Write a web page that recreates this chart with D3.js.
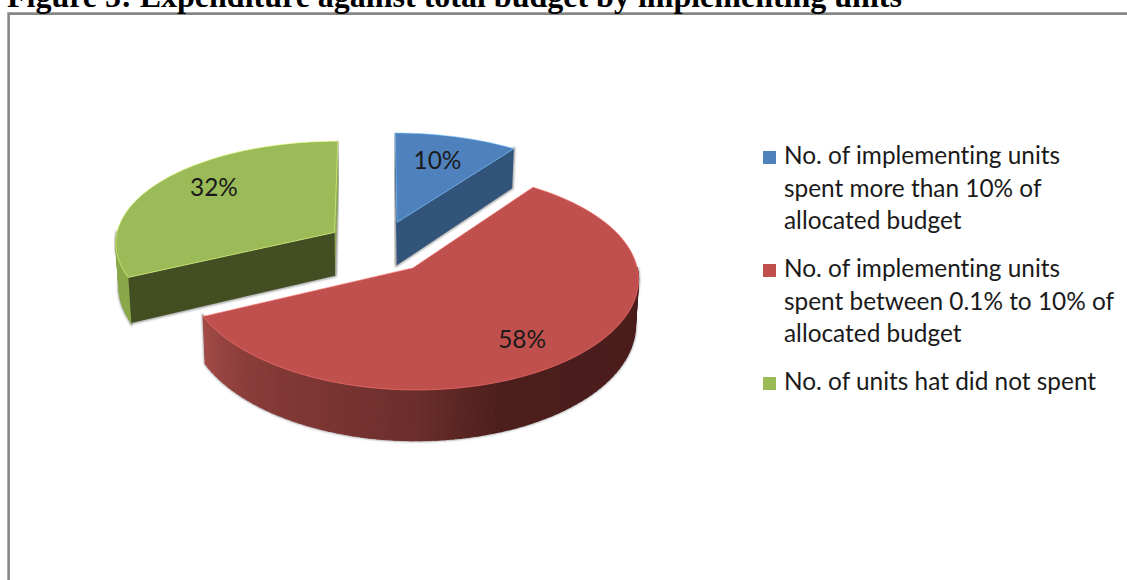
<!DOCTYPE html>
<html>
<head>
<meta charset="utf-8">
<script src="https://cdn.jsdelivr.net/npm/d3@7/dist/d3.min.js"></script>
<style>
  html, body { margin: 0; padding: 0; background: #fff; overflow: hidden; }
  svg { display: block; }
  text { font-variant-ligatures: none; }
</style>
</head>
<body>
<svg id="chart" width="1127" height="580"></svg>
<script>
// Expenditure shares by implementing unit group
const titleText = "Figure 5: Expenditure against total budget by implementing units";
const shares = [10, 58, 32];
const shareLabels = ["10%", "58%", "32%"];
const legendLines = [
  ["No. of implementing units", "spent more than 10% of", "allocated budget"],
  ["No. of implementing units", "spent between 0.1% to 10% of", "allocated budget"],
  ["No. of units hat did not spent"]
];
const topColors = ["#4f81bd", "#bf504d", "#9bbb59"];
const innerWallColors = ["#33547a", "#7d3432", "#434f22"];
const sideWallColors = ["#3b5f8a", "#bf504d", "#8aa84b"];
const explodeAcross = [0.33, 0.265, 0.22];
const explodeAlong = [0.235, 0.28, 0.23];
const labelRadius = [0.7, 0.765, 0.745];
const labelTurnDeg = [-1, 3.6, 5.9];

const W = 1127, H = 580;
const svg = d3.select("#chart");

// Tilted-disc projection: far points shrink, near points grow
const view = { cx: 375, cy: 245, rx: 220, ry: 103.6, kx: 0.09, ky: 0.108, depth: 44, pinch: 0.012 };
function project(X, Y, z) {
  const sx = 1 / (1 + view.kx * Y);
  const sy = 1 / (1 + view.ky * Y);
  return [
    view.cx + view.rx * X * sx * (1 - view.pinch * z),
    view.cy - view.ry * Y * sy + view.depth * sy * z
  ];
}

const pie = d3.pie().sort(null).value(d => d)(shares);
const slices = pie.map((p, i) => {
  const mid = (p.startAngle + p.endAngle) / 2;
  return {
    i,
    a0: p.startAngle,
    a1: p.endAngle,
    mid,
    ox: explodeAcross[i] * Math.sin(mid),
    oy: explodeAlong[i] * Math.cos(mid)
  };
});

const rim = (sl, a, z) => project(sl.ox + Math.sin(a), sl.oy + Math.cos(a), z);
const hub = (sl, z) => project(sl.ox, sl.oy, z);
const line = d3.line();
const closed = pts => line(pts) + "Z";
const arcAngles = sl => {
  const n = Math.max(2, Math.ceil((sl.a1 - sl.a0) / (Math.PI / 90)));
  return d3.range(n + 1).map(j => sl.a0 + (sl.a1 - sl.a0) * j / n);
};

// Shading along the curved front edge of the large slice
const deg = Math.PI / 180;
const redSide = d3.scaleLinear()
  .domain([90 * deg, 160 * deg, 180 * deg, 225 * deg, 245 * deg])
  .range(["#4a1c1b", "#4c1e1c", "#6b2e2b", "#8a3d3a", "#a34b48"])
  .interpolate(d3.interpolateRgb)
  .clamp(true);

const defs = svg.append("defs");
defs.append("filter").attr("id", "halo")
  .attr("x", "-10%").attr("y", "-10%").attr("width", "120%").attr("height", "120%")
  .append("feGaussianBlur").attr("stdDeviation", 0.8);

svg.append("rect").attr("width", W).attr("height", H).attr("fill", "#fff");

// Chart frame
svg.append("path")
  .attr("d", line([[8.6, H], [8.6, 13.6], [W, 13.6]]))
  .attr("fill", "none")
  .attr("stroke", "#868686")
  .attr("stroke-width", 2.6);

// Heading, cut by the top of the page
svg.append("text")
  .attr("x", 7).attr("y", 7)
  .attr("font-family", "'Liberation Serif', serif")
  .attr("font-weight", "bold")
  .attr("font-size", 32)
  .attr("fill", "#000")
  .text(titleText);

const pieLayer = svg.append("g");

// Walls: back to front
[0, 2, 1].forEach(i => {
  const sl = slices[i];
  const g = pieLayer.append("g");
  const angles = arcAngles(sl);

  const startWall = [rim(sl, sl.a0, 0), hub(sl, 0), hub(sl, 1), rim(sl, sl.a0, 1)];
  const endWall = [rim(sl, sl.a1, 0), hub(sl, 0), hub(sl, 1), rim(sl, sl.a1, 1)];
  const faceAngles = angles.filter(a => a > 88 * deg && a < 272 * deg);
  const outerWall = faceAngles.length > 1
    ? faceAngles.map(a => rim(sl, a, 0)).concat(faceAngles.slice().reverse().map(a => rim(sl, a, 1)))
    : null;

  // soft gray edge around the solid
  [startWall, endWall, outerWall].filter(Boolean).forEach(w => {
    if (i === 1 && w !== outerWall) return;
    g.append("path").attr("d", closed(w))
      .attr("fill", "none").attr("stroke", "#9a9a9a").attr("stroke-width", 2.4)
      .attr("filter", "url(#halo)");
  });

  // far radial wall, seen edge-on
  if (i === 2) {
    g.append("path").attr("d", closed(endWall)).attr("fill", sideWallColors[i]);
  }
  if (i === 0) {
    g.append("path").attr("d", closed(startWall)).attr("fill", sideWallColors[i]);
  }

  // curved outer wall, one band per step
  for (let j = 0; j < faceAngles.length - 1; j++) {
    const a = faceAngles[j], b = faceAngles[j + 1];
    const tone = i === 1 ? redSide((a + b) / 2) : sideWallColors[i];
    g.append("path")
      .attr("d", closed([rim(sl, a, 0), rim(sl, b, 0), rim(sl, b, 1), rim(sl, a, 1)]))
      .attr("fill", tone)
      .attr("stroke", tone)
      .attr("stroke-width", 1.2);
  }

  // radial wall that faces the viewer
  if (i === 0) {
    g.append("path").attr("d", closed(endWall)).attr("fill", innerWallColors[i]);
  }
  if (i === 2) {
    g.append("path").attr("d", closed(startWall)).attr("fill", innerWallColors[i]);
  }
});

// Top faces
slices.forEach(sl => {
  const pts = [hub(sl, 0)].concat(arcAngles(sl).map(a => rim(sl, a, 0)));
  pieLayer.append("path")
    .attr("d", closed(pts))
    .attr("fill", topColors[sl.i])
    .attr("stroke", d3.rgb(topColors[sl.i]).brighter(1.1))
    .attr("stroke-width", 0.6)
    .attr("stroke-linejoin", "round");
});

// Percent labels
slices.forEach(sl => {
  const a = sl.mid + labelTurnDeg[sl.i] * deg;
  const [x, y] = project(
    sl.ox + labelRadius[sl.i] * Math.sin(a),
    sl.oy + labelRadius[sl.i] * Math.cos(a),
    0
  );
  svg.append("text")
    .attr("x", x).attr("y", y + 8)
    .attr("text-anchor", "middle")
    .attr("font-family", "Lato, 'Open Sans', sans-serif")
    .attr("font-size", 24.4)
    .attr("fill", "#1a1a1a")
    .text(shareLabels[sl.i]);
});

// Legend
const legendFont = 24.4, lineStep = 32.6, groupGap = 47.8;
const legend = svg.append("g").attr("transform", "translate(763,0)");
let baseline = 164;
legendLines.forEach((lines, i) => {
  legend.append("rect")
    .attr("x", 0).attr("y", baseline - 13)
    .attr("width", 13).attr("height", 13)
    .attr("fill", topColors[i]);
  lines.forEach((t, j) => {
    legend.append("text")
      .attr("x", 21).attr("y", baseline + j * lineStep)
      .attr("font-family", "Lato, 'Open Sans', sans-serif")
      .attr("font-size", legendFont)
      .attr("fill", "#1a1a1a")
      .text(t);
  });
  baseline += (lines.length - 1) * lineStep + groupGap;
});
</script>
</body>
</html>
